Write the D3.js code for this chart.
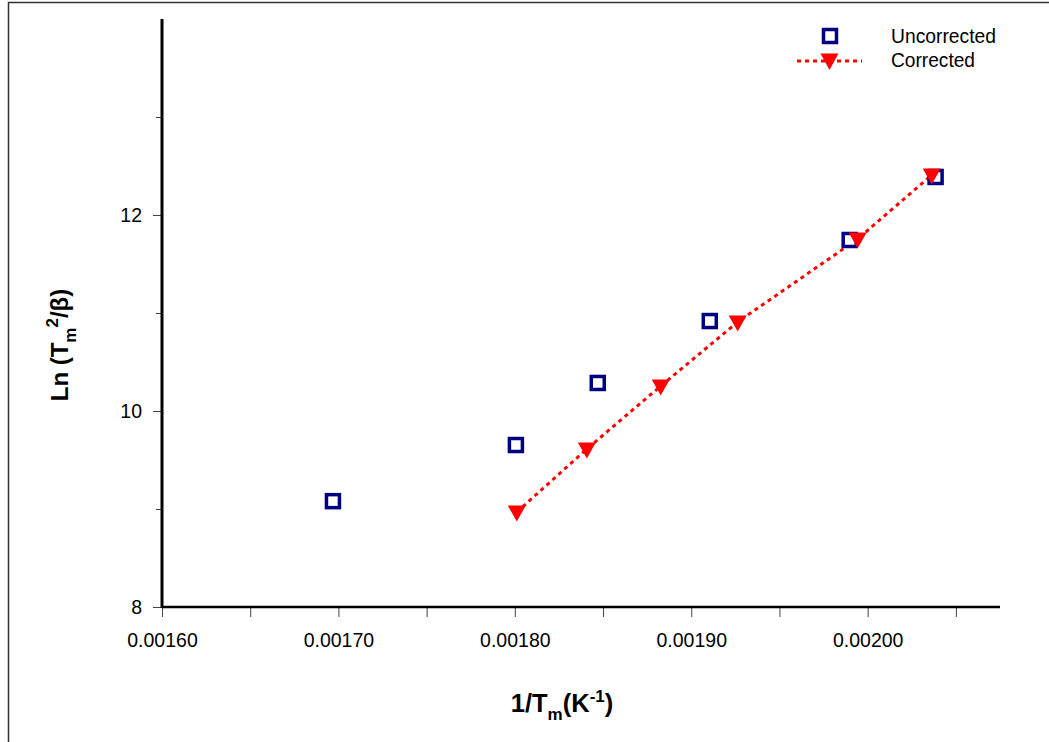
<!DOCTYPE html>
<html>
<head>
<meta charset="utf-8">
<script src="https://cdn.jsdelivr.net/npm/d3@7/dist/d3.min.js"></script>
<style>
  html, body { margin: 0; padding: 0; background: #fff; }
  svg { display: block; font-family: "Liberation Sans", Arial, sans-serif; }
</style>
</head>
<body>
<svg id="chart" width="1049" height="742"></svg>
<script>
// ---- data ----
const uncorrectedX = [0.0016969, 0.0018006, 0.0018470, 0.0019105, 0.0019898, 0.0020385];
const uncorrectedY = [9.08, 9.653, 10.286, 10.918, 11.745, 12.388];
const correctedX = [0.0018011, 0.0018408, 0.0018827, 0.0019263, 0.0019943, 0.0020363];
const correctedY = [8.969, 9.612, 10.255, 10.908, 11.755, 12.408];
const xTickValues = [0.0016, 0.0017, 0.0018, 0.0019, 0.0020];
const xTickLabels = ["0.00160", "0.00170", "0.00180", "0.00190", "0.00200"];
const xMinorTicks = [0.00165, 0.00175, 0.00185, 0.00195, 0.00205];
const yTickValues = [8, 10, 12];
const yMinorTicks = [9, 11, 13];
const seriesNames = ["Uncorrected", "Corrected"];

const svg = d3.select("#chart");

// outer frame
svg.append("rect").attr("x", 8.5).attr("y", 2.5).attr("width", 1200).attr("height", 900)
  .attr("fill", "none").attr("stroke", "#333").attr("stroke-width", 1.5);

const x = d3.scaleLinear().domain([0.0016, 0.002075]).range([162, 1000]);
const y = d3.scaleLinear().domain([8, 14]).range([607, 19]);

// x axis
const gx = svg.append("g").attr("transform", "translate(0,607)");
gx.call(d3.axisBottom(x).tickValues(xTickValues).tickSize(10).tickPadding(16)
  .tickFormat((d, i) => xTickLabels[i]));
gx.select(".domain").remove();
gx.selectAll(".tick line").attr("stroke", "#444").attr("stroke-width", 1);
gx.selectAll(".tick text").attr("font-size", 19.5).attr("fill", "#000")
  .attr("font-family", "Liberation Sans, Arial, sans-serif");
const gxm = svg.append("g").attr("transform", "translate(0,607)");
gxm.call(d3.axisBottom(x).tickValues(xMinorTicks).tickSize(10).tickFormat(""));
gxm.select(".domain").remove();
gxm.selectAll(".tick line").attr("stroke", "#444").attr("stroke-width", 1);

// y axis
const gy = svg.append("g").attr("transform", "translate(162,0)");
gy.call(d3.axisLeft(y).tickValues(yTickValues).tickSize(9).tickPadding(11)
  .tickFormat(d3.format("d")));
gy.select(".domain").remove();
gy.selectAll(".tick line").attr("stroke", "#444").attr("stroke-width", 1);
gy.selectAll(".tick text").attr("font-size", 19.5).attr("fill", "#000")
  .attr("font-family", "Liberation Sans, Arial, sans-serif");
const gym = svg.append("g").attr("transform", "translate(162,0)");
gym.call(d3.axisLeft(y).tickValues(yMinorTicks).tickSize(6).tickFormat(""));
gym.select(".domain").remove();
gym.selectAll(".tick line").attr("stroke", "#444").attr("stroke-width", 1);

// axis lines
svg.append("line").attr("x1", x.range()[0]).attr("x2", x.range()[1])
  .attr("y1", y(8)).attr("y2", y(8)).attr("stroke", "#000").attr("stroke-width", 2.5);
svg.append("line").attr("x1", x.range()[0]).attr("x2", x.range()[0])
  .attr("y1", y.range()[1]).attr("y2", y(8) + 1).attr("stroke", "#000").attr("stroke-width", 3);

// corrected dotted line
const corrected = correctedX.map((v, i) => [v, correctedY[i]]);
const uncorrected = uncorrectedX.map((v, i) => [v, uncorrectedY[i]]);
svg.append("path").datum(corrected)
  .attr("d", d3.line().x(d => x(d[0])).y(d => y(d[1])))
  .attr("fill", "none").attr("stroke", "#ff0000").attr("stroke-width", 3)
  .attr("stroke-dasharray", "4,4");

// uncorrected squares
svg.append("g").selectAll("rect").data(uncorrected).join("rect")
  .attr("x", d => x(d[0]) - 6.5).attr("y", d => y(d[1]) - 6.5)
  .attr("width", 13).attr("height", 13)
  .attr("fill", "#fff").attr("stroke", "#000080").attr("stroke-width", 3.5);

// corrected triangles (pointing down)
const tri = d => {
  const cx = x(d[0]), cy = y(d[1]);
  return `M${cx - 9},${cy - 6.5}L${cx + 9},${cy - 6.5}L${cx},${cy + 9.5}Z`;
};
svg.append("g").selectAll("path").data(corrected).join("path")
  .attr("d", tri).attr("fill", "#ff0000");

// legend
const lg = svg.append("g");
lg.append("rect").attr("x", 823.5).attr("y", 29.5).attr("width", 13).attr("height", 13)
  .attr("fill", "#fff").attr("stroke", "#000080").attr("stroke-width", 3.5);
lg.append("text").attr("x", 891).attr("y", 43).attr("font-size", 19.5)
  .attr("textLength", 105).attr("lengthAdjust", "spacingAndGlyphs").text(seriesNames[0]);
lg.append("line").attr("x1", 797).attr("x2", 862).attr("y1", 61).attr("y2", 61)
  .attr("stroke", "#ff0000").attr("stroke-width", 3).attr("stroke-dasharray", "4,4");
lg.append("path").attr("d", "M820.5,53.5L838.5,53.5L829.5,70Z").attr("fill", "#ff0000");
lg.append("text").attr("x", 891).attr("y", 67).attr("font-size", 19.5)
  .attr("textLength", 84).attr("lengthAdjust", "spacingAndGlyphs").text(seriesNames[1]);

// axis titles
const yt = svg.append("text")
  .attr("transform", "translate(68,345) rotate(-90)")
  .attr("text-anchor", "middle").attr("font-size", 24).attr("font-weight", "bold");
yt.append("tspan").text("Ln (T");
yt.append("tspan").attr("font-size", 17).attr("dy", 8).text("m");
yt.append("tspan").attr("font-size", 17).attr("dy", -18).text("2");
yt.append("tspan").attr("dy", 10).text("/β)");

const xt = svg.append("text")
  .attr("x", 562).attr("y", 712)
  .attr("text-anchor", "middle").attr("font-size", 25.5).attr("font-weight", "bold");
xt.append("tspan").text("1/T");
xt.append("tspan").attr("font-size", 17).attr("dy", 8).text("m");
xt.append("tspan").attr("dy", -8).text("(K");
xt.append("tspan").attr("font-size", 17).attr("dy", -10).text("-1");
xt.append("tspan").attr("dy", 10).text(")");
</script>
</body>
</html>
